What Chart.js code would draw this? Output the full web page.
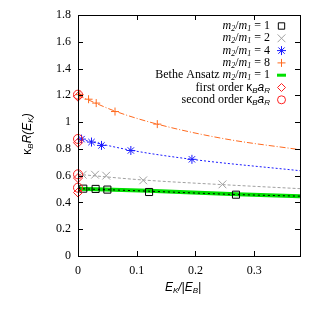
<!DOCTYPE html>
<html>
<head>
<meta charset="utf-8">
<script src="https://cdn.jsdelivr.net/npm/chart.js@4/dist/chart.umd.min.js"></script>
<style>
  html, body { margin: 0; padding: 0; background: #fff; }
  #wrap { width: 314px; height: 309px; }
</style>
</head>
<body>
<div id="wrap"><canvas id="grafica"></canvas></div>
<script>
// tick values
const xTicks = [0, 0.1, 0.2, 0.3];
const yTicks = [0, 0.2, 0.4, 0.6, 0.8, 1, 1.2, 1.4, 1.6, 1.8];

// measured points, m2/m1 = 1, 2, 4, 8
const m1X = [0.009, 0.030, 0.050, 0.121, 0.269];
const m1Y = [0.503, 0.501, 0.496, 0.478, 0.458];
const m2X = [0.008, 0.029, 0.048, 0.111, 0.246];
const m2Y = [0.607, 0.607, 0.600, 0.565, 0.535];
const m4X = [0.006, 0.023, 0.040, 0.090, 0.194];
const m4Y = [0.873, 0.851, 0.826, 0.788, 0.722];
const m8X = [0.003, 0.018, 0.031, 0.063, 0.135];
const m8Y = [1.205, 1.171, 1.142, 1.079, 0.985];

// fitted curves
const fit1X = [0, 0.12, 0.27, 0.378];
const fit1Y = [0.503, 0.484, 0.459, 0.447];
const fit2X = [0, 0.11, 0.246, 0.378];
const fit2Y = [0.61, 0.568, 0.533, 0.503];
const fit4X = [0, 0.09, 0.194, 0.378];
const fit4Y = [0.875, 0.79, 0.722, 0.637];
const fit8X = [0, 0.063, 0.135, 0.25, 0.378];
const fit8Y = [1.2, 1.082, 0.985, 0.875, 0.794];

// Bethe ansatz m2/m1 = 1
const betheX = [0, 0.12, 0.27, 0.378];
const betheY = [0.503, 0.487, 0.462, 0.447];

// kappa_B a_R at E_K = 0
const firstOrder = [1.19, 0.846, 0.582, 0.474];
const secondOrder = [1.205, 0.874, 0.61, 0.51];

const pts = (xs, ys) => xs.map((x, i) => ({ x: x, y: ys[i] }));
const atZero = ys => ys.map(y => ({ x: 0, y: y }));

const serif = '"Liberation Serif", "Times New Roman", serif';
const sans = '"Liberation Sans", Arial, sans-serif';

function fitLine(data, color, dash) {
    return {
        data: data, showLine: true, borderColor: color, borderWidth: 1,
        borderDash: dash, pointRadius: 0, cubicInterpolationMode: 'monotone', order: 5
    };
}
function marks(data, style, color, r) {
    return {
        data: data, showLine: false, pointStyle: style, pointRadius: r, pointHoverRadius: r,
        borderColor: color, backgroundColor: 'rgba(0,0,0,0)', pointBorderWidth: 1, order: 2,
        clip: false
    };
}

// write text pieces one after another, right aligned at xr
function rich(ctx, parts, xr, y) {
    let w = 0;
    parts.forEach(p => { ctx.font = p.f; w += ctx.measureText(p.t).width; });
    let x = xr - w;
    ctx.textAlign = 'left';
    ctx.textBaseline = 'middle';
    parts.forEach(p => {
        ctx.font = p.f;
        ctx.fillText(p.t, x, y + (p.dy || 0));
        x += ctx.measureText(p.t).width;
    });
    return w;
}

const itI = 'italic 12px ' + serif, sub = 'italic 8px ' + serif, up = '12px ' + serif;
const ratio = n => [
    { t: 'm', f: itI }, { t: '2', f: sub, dy: 3 }, { t: '/', f: up }, { t: 'm', f: itI },
    { t: '1', f: sub, dy: 3 }, { t: ' = ' + n, f: up }
];
const kappa = [
    { t: 'κ', f: '12px ' + sans }, { t: 'B', f: 'italic 8px ' + sans, dy: 3 },
    { t: 'a', f: 'italic 12px ' + sans }, { t: 'R', f: 'italic 8px ' + sans, dy: 3 }
];
const legendRows = [
    { parts: ratio(1), style: 'rect', color: '#000', r: 4.5 },
    { parts: ratio(2), style: 'crossRot', color: '#a0a0a0', r: 5.5 },
    { parts: ratio(4), style: 'star', color: '#1a1aff', r: 4.5 },
    { parts: ratio(8), style: 'cross', color: '#ff6a1f', r: 4 },
    { parts: [{ t: 'Bethe Ansatz ', f: up }].concat(ratio(1)), line: true, color: '#00e000' },
    { parts: [{ t: 'first order ', f: up }].concat(kappa), style: 'rectRot', color: '#ff2020', r: 4 },
    { parts: [{ t: 'second order ', f: up }].concat(kappa), style: 'circle', color: '#ff2020', r: 4 }
];

const marco = {
    id: 'marco',
    afterDraw(chart) {
        const ctx = chart.ctx, a = chart.chartArea;
        const sx = chart.scales.x, sy = chart.scales.y;
        ctx.save();
        ctx.strokeStyle = '#000';
        ctx.lineWidth = 1;
        ctx.strokeRect(Math.round(a.left) + 0.5, Math.round(a.top) + 0.5,
            Math.round(a.right - a.left), Math.round(a.bottom - a.top));
        ctx.beginPath();
        xTicks.forEach(v => {
            const px = Math.round(sx.getPixelForValue(v)) + 0.5;
            ctx.moveTo(px, a.bottom); ctx.lineTo(px, a.bottom - 5);
            ctx.moveTo(px, a.top); ctx.lineTo(px, a.top + 5);
        });
        yTicks.forEach(v => {
            const py = Math.round(sy.getPixelForValue(v)) + 0.5;
            ctx.moveTo(a.left, py); ctx.lineTo(a.left + 5, py);
            ctx.moveTo(a.right, py); ctx.lineTo(a.right - 5, py);
        });
        ctx.stroke();

        // legend
        legendRows.forEach((row, i) => {
            const y = 26 + i * 12.3;
            ctx.fillStyle = '#000';
            rich(ctx, row.parts, 270, y);
            ctx.strokeStyle = row.color;
            if (row.line) {
                ctx.lineWidth = 3;
                ctx.beginPath();
                ctx.moveTo(277, y); ctx.lineTo(286, y);
                ctx.stroke();
                ctx.lineWidth = 1;
            } else {
                ctx.fillStyle = 'rgba(0,0,0,0)';
                ctx.lineWidth = 1;
                Chart.helpers.drawPoint(ctx, { pointStyle: row.style, radius: row.r, borderWidth: 1, rotation: 0 }, 281.5, y);
            }
        });

        // axis titles
        ctx.fillStyle = '#000';
        const xl = [
            { t: 'E', f: 'italic 12px ' + sans }, { t: 'K', f: 'italic 8px ' + sans, dy: 3 },
            { t: '/|E', f: 'italic 12px ' + sans }, { t: 'B', f: 'italic 8px ' + sans, dy: 3 },
            { t: '|', f: 'italic 12px ' + sans }
        ];
        let w = 0;
        xl.forEach(p => { ctx.font = p.f; w += ctx.measureText(p.t).width; });
        rich(ctx, xl, 183 + w / 2, 288);

        const yl = [
            { t: 'κ', f: '12px ' + sans }, { t: 'B', f: 'italic 8px ' + sans, dy: 3 },
            { t: 'R(E', f: 'italic 12px ' + sans }, { t: 'K', f: 'italic 8px ' + sans, dy: 3 },
            { t: ')', f: 'italic 12px ' + sans }
        ];
        w = 0;
        yl.forEach(p => { ctx.font = p.f; w += ctx.measureText(p.t).width; });
        ctx.translate(28, 134);
        ctx.rotate(-Math.PI / 2);
        rich(ctx, yl, w / 2, 0);
        ctx.restore();
    }
};

const fmt = v => String(Math.round(v * 10) / 10);

const ctx = document.getElementById('grafica');
const grafica = new Chart(ctx, {
    type: 'scatter',
    data: {
        datasets: [
            {
                data: pts(betheX, betheY), showLine: true, borderColor: '#00e000', borderWidth: 4,
                pointRadius: 0, order: 9
            },
            fitLine(pts(fit1X, fit1Y), '#000', [2, 3]),
            fitLine(pts(fit2X, fit2Y), '#a0a0a0', [3, 2]),
            fitLine(pts(fit4X, fit4Y), '#1a1aff', [2, 2]),
            fitLine(pts(fit8X, fit8Y), '#ff6a1f', [6, 2, 1, 2]),
            marks(pts(m1X, m1Y), 'rect', '#000', 5),
            marks(pts(m2X, m2Y), 'crossRot', '#a0a0a0', 5.5),
            marks(pts(m4X, m4Y), 'star', '#1a1aff', 4.5),
            marks(pts(m8X, m8Y), 'cross', '#ff6a1f', 4),
            Object.assign(marks(atZero(firstOrder), 'rectRot', '#ff2020', 4.5), { order: 1 }),
            Object.assign(marks(atZero(secondOrder), 'circle', '#ff2020', 4.5), { order: 1 })
        ]
    },
    options: {
        responsive: true,
        maintainAspectRatio: false,
        animation: false,
        events: [],
        layout: { padding: { top: 15, right: 14, left: 0, bottom: 0 } },
        plugins: { legend: { display: false }, tooltip: { enabled: false } },
        scales: {
            x: {
                type: 'linear', min: 0, max: 0.378,
                grid: { display: false, drawTicks: false },
                border: { display: false },
                afterBuildTicks: s => { s.ticks = xTicks.map(v => ({ value: v })); },
                afterFit: s => { s.height = 53; },
                ticks: { color: '#000', padding: 8, font: { family: serif, size: 12 }, maxRotation: 0, callback: fmt }
            },
            y: {
                min: 0, max: 1.8,
                grid: { display: false, drawTicks: false },
                border: { display: false },
                afterBuildTicks: s => { s.ticks = yTicks.map(v => ({ value: v })); },
                afterFit: s => { s.width = 78; },
                ticks: { color: '#000', padding: 7, font: { family: serif, size: 12 }, callback: fmt }
            }
        }
    },
    plugins: [marco]
});
</script>
</body>
</html>
